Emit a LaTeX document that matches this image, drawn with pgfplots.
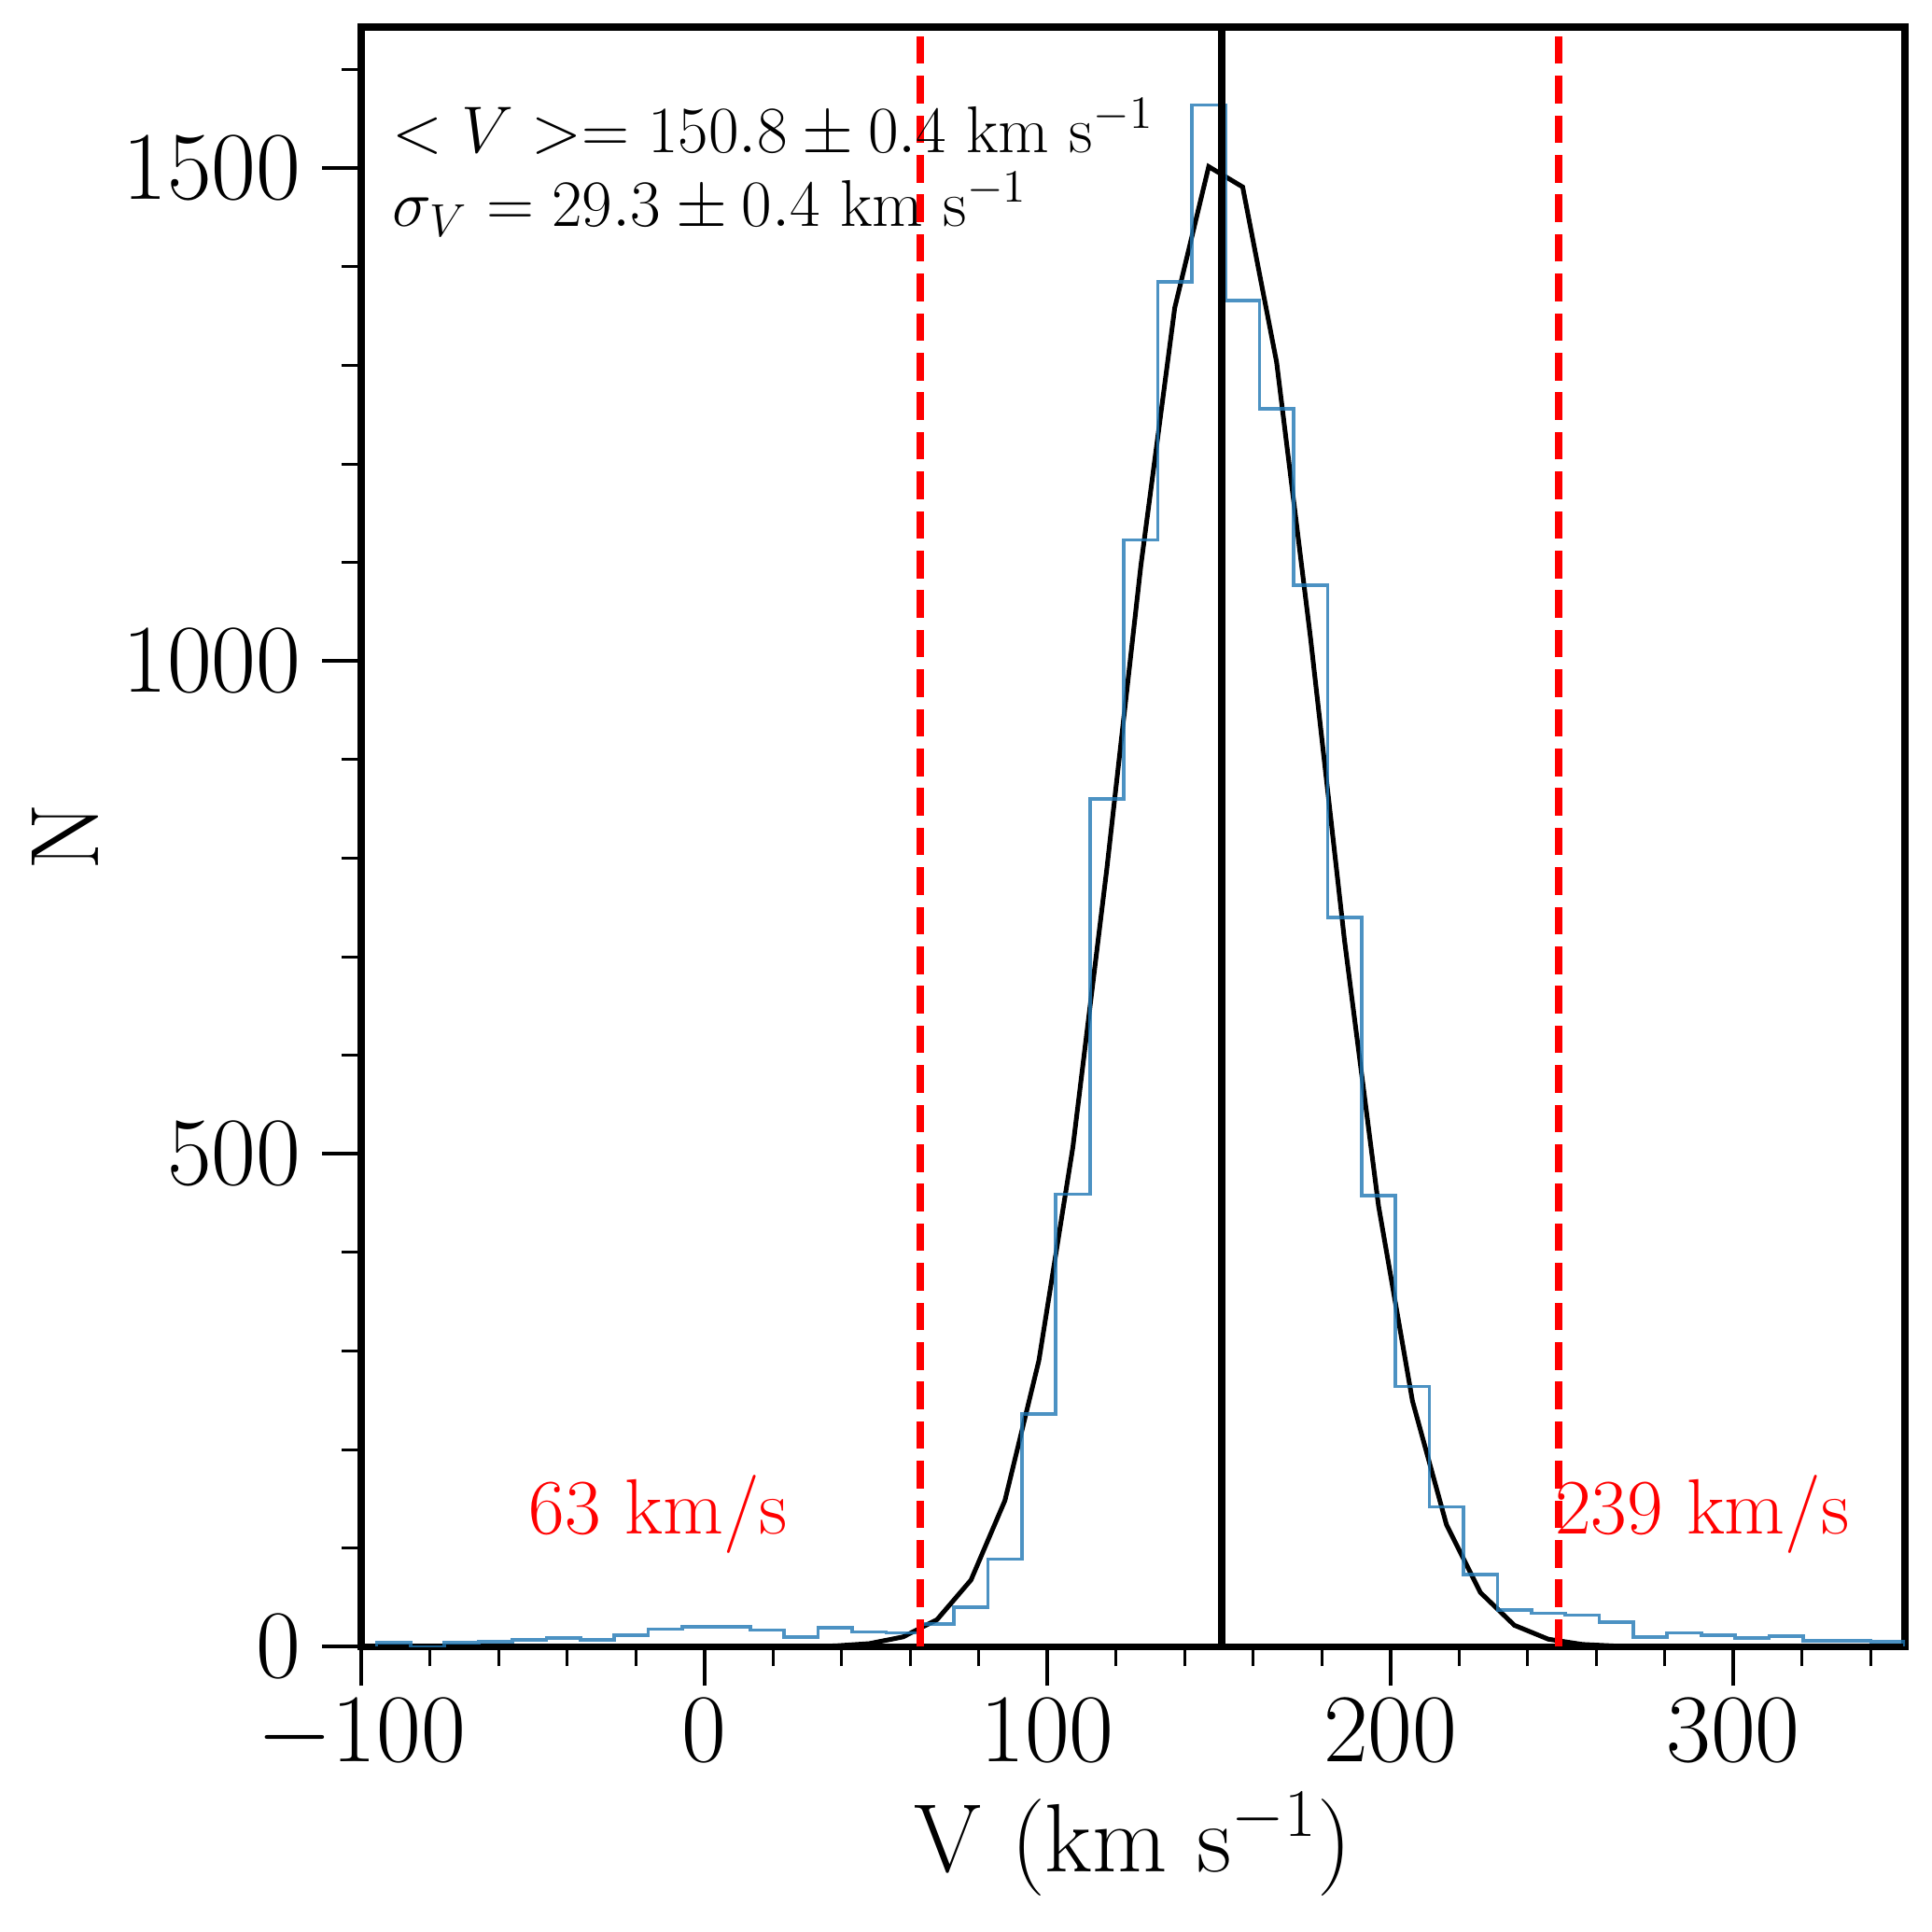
\RequirePackage{fix-cm}
\documentclass[border=0pt]{standalone}
\usepackage{pgfplots}
\pgfplotsset{compat=1.18}
\definecolor{histblue}{RGB}{31,119,180}
\begin{document}
\begin{tikzpicture}[x=1pt,y=1pt]
\useasboundingbox (0,0) rectangle (517.5,517.5);
\begin{axis}[
  at={(96.75pt,76.4pt)}, anchor=south west,
  width=413.5pt, height=433.8pt, scale only axis,
  xmin=-100, xmax=350, ymin=0, ymax=1643,
  xtick={-100,0,100,200,300}, ytick={0,500,1000,1500},
  minor xtick={-80,-60,...,340}, minor ytick={100,200,...,1600},
  tick align=outside, tick pos=left,
  major tick length=10.5pt, minor tick length=5.25pt,
  major tick style={black, line width=1pt},
  minor tick style={black, line width=0.75pt},
  axis line style={line width=1.875pt},
  /pgf/number format/1000 sep={},
  ticklabel style={font=\fontsize{26}{31}\selectfont, inner sep=0pt},
  xticklabel style={anchor=north, yshift=-3.4pt},
  yticklabel style={anchor=east, xshift=-5.5pt},
  xlabel={V (km s$^{-1}$)}, ylabel={N},
  label style={font=\fontsize{26}{31}\selectfont, inner sep=0pt},
  xlabel style={at={(axis description cs:0.5,-0.1388)}, anchor=base},
  ylabel style={at={(axis description cs:-0.17048,0.5)}, anchor=base},
]
% Gaussian fit curve (values read at bin centres)
\addplot[black, line width=1.25pt] coordinates {
(-90.55,0) (-80.65,0) (-70.75,0) (-60.85,0) (-50.95,0) (-41.05,0) (-31.15,0)
(-21.25,0) (-11.35,0) (-1.45,0) (8.45,0) (18.35,0) (28.25,0.2) (38.15,0.9)
(48.05,3.2) (57.95,10.0) (67.85,27.5) (77.75,67.7) (87.65,148.4) (97.55,290.4)
(107.45,506.7) (117.35,789.1) (127.25,1096.1) (137.15,1358.3) (147.05,1501.6)
(156.95,1481.0) (166.85,1303.1) (176.75,1022.8) (186.65,716.2) (196.55,447.4)
(206.45,249.3) (216.35,124.0) (226.25,55.0) (236.15,21.8) (246.05,7.7)
(255.95,2.4) (265.85,0.7) (275.75,0.2) (285.65,0) (295.55,0) (305.45,0)
(315.35,0) (325.25,0) (335.15,0) (345.05,0) (354.95,0)
};
% histogram (step outline), left bin edges
\addplot[histblue, opacity=0.8, line width=0.92pt, const plot] coordinates {
(-95.5,0) (-95.5,4) (-85.6,0) (-75.7,4) (-65.8,5) (-55.9,7) (-46.0,9)
(-36.1,7) (-26.2,12) (-16.3,18) (-6.4,20) (3.5,20) (13.4,17) (23.3,10)
(33.2,19) (43.1,15) (53.0,14) (62.9,23) (72.8,40) (82.7,89) (92.6,236)
(102.5,459) (112.4,860) (122.3,1123) (132.2,1385) (142.1,1564) (152.0,1366)
(161.9,1256) (171.8,1077) (181.7,740) (191.6,458) (201.5,264) (211.4,142)
(221.3,73) (231.2,37) (241.1,34) (251.0,32) (260.9,25) (270.8,10) (280.7,14)
(290.6,12) (300.5,9) (310.4,11) (320.3,6) (330.2,6) (340.1,5) (350.0,5) (350.0,0)
};
% mean and cut lines
\addplot[black, line width=1.9pt] coordinates {(150.8,0) (150.8,1643)};
\addplot[red, line width=2pt, dash pattern=on 7.4pt off 3.2pt] coordinates {(63,0) (63,1643)};
\addplot[red, line width=2pt, dash pattern=on 7.4pt off 3.2pt] coordinates {(249,0) (249,1643)};
% annotations
\node[anchor=base west, inner sep=0pt, font=\fontsize{17.7}{21}\selectfont] at (axis cs:-91,1515.7)
  {$<V>= 150.8 \pm 0.4~\mathrm{km~s^{-1}}$};
\node[anchor=base west, inner sep=0pt, font=\fontsize{17.7}{21}\selectfont] at (axis cs:-91,1441)
  {$\sigma_V = 29.3 \pm 0.4~\mathrm{km~s^{-1}}$};
\node[anchor=base west, inner sep=0pt, text=red, font=\fontsize{21}{25}\selectfont] at (axis cs:-51.25,114.5)
  {63 km/s};
\node[anchor=base west, inner sep=0pt, text=red, font=\fontsize{21}{25}\selectfont] at (axis cs:247.8,114.5)
  {239 km/s};
\end{axis}
\end{tikzpicture}
\end{document}
